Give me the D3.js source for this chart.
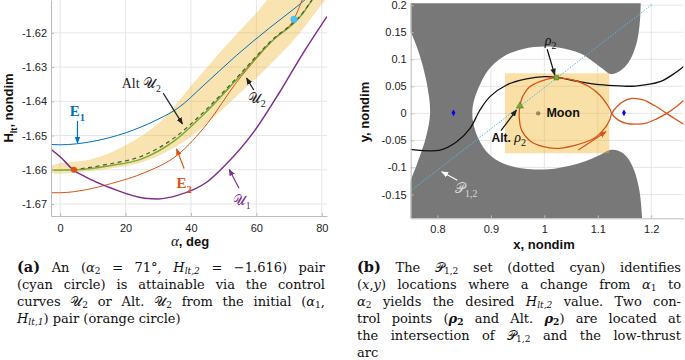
<!DOCTYPE html>
<html>
<head>
<meta charset="utf-8">
<script src="https://cdn.jsdelivr.net/npm/d3@7"></script>
<style>
  body { margin: 0; background: #fff; }
  svg { display: block; }
</style>
</head>
<body>
<svg id="fig" width="685" height="360"></svg>
<script>
// ---------- panel (a): H_lt vs alpha ----------
const alphaTicks = [0, 20, 40, 60, 80];
const hTicks = [-1.67, -1.66, -1.65, -1.64, -1.63, -1.62];

const curveE1 = [[-2.8, -1.6526], [0, -1.6527], [10, -1.6517], [20, -1.6492], [30, -1.6452], [36, -1.6420],
  [43.7, -1.6355], [53.9, -1.6266], [64.1, -1.6185], [71.5, -1.6130], [74.8, -1.6104], [77, -1.6085]];
const curveE2 = [[-2.8, -1.6667], [0, -1.6667], [8, -1.6658], [15.7, -1.6640], [25.9, -1.6608], [36.1, -1.6555],
  [45, -1.6465], [53.9, -1.6345], [60, -1.6275], [66, -1.6212], [71.5, -1.6160], [74, -1.6104], [75, -1.6080]];
const curveU1 = [[-2.8, -1.6540], [0, -1.6562], [4, -1.6600], [7.6, -1.6620], [15.7, -1.6654], [25.9, -1.6683],
  [30, -1.6685], [36.1, -1.6674], [45, -1.6635], [50, -1.6591], [59.6, -1.6484], [67, -1.6375],
  [74.3, -1.6259], [81.6, -1.6152]];
const curveU2 = [[-2.8, -1.6601], [5, -1.6600], [15, -1.6588], [25, -1.6568], [35, -1.6515], [43.7, -1.6440],
  [53.9, -1.6337], [64.1, -1.6230], [74.3, -1.6142], [77, -1.6104], [78, -1.6090]];
const curveAltU2 = [[4, -1.6600], [15, -1.6583], [25, -1.6560], [35, -1.6506], [43.7, -1.6433],
  [53.9, -1.6332], [64.1, -1.6227], [74.3, -1.6140], [77, -1.6104]];
const bandUpper = [[-2.8, -1.6590], [10, -1.6568], [20, -1.6528], [30, -1.6465], [40, -1.6355],
  [50, -1.6245], [60, -1.6142], [66, -1.6085]];
const bandLower = [[-2.8, -1.6608], [5, -1.6607], [15, -1.6597], [25, -1.6578], [35, -1.6535], [43.7, -1.6474],
  [53.9, -1.6386], [64.1, -1.6294], [72, -1.6215], [81, -1.6104], [83, -1.6080]];
const startPair = [4.2, -1.6600];   // orange circle
const targetPair = [71.5, -1.6160]; // cyan circle

// ---------- panel (b): x-y plane ----------
const xTicks = [0.8, 0.9, 1.0, 1.1, 1.2];
const yTicks = [-0.15, -0.1, -0.05, 0, 0.05, 0.1, 0.15, 0.2];

// forbidden-region boundary (zero velocity curve) around the Moon and the neck
const zvcInner = [[1.1805, 0.215], [1.1803, 0.2035], [1.179, 0.1726], [1.174, 0.1356], [1.1635, 0.1048],
  [1.151, 0.0863], [1.1354, 0.0752], [1.1229, 0.0728], [1.1103, 0.0815], [1.0916, 0.0955], [1.0667, 0.1110],
  [1.029, 0.1214], [1.0, 0.1235], [0.9605, 0.1191], [0.9232, 0.1049], [0.8952, 0.0802], [0.8765, 0.0463],
  [0.8672, 0.0185], [0.8653, 0], [0.8672, -0.0185], [0.8765, -0.0463], [0.8952, -0.0741], [0.9232, -0.0926],
  [0.9605, -0.1019], [1.0, -0.1037], [1.029, -0.1005], [1.0667, -0.0918], [1.104, -0.0770], [1.1229, -0.0677],
  [1.1384, -0.0690], [1.1541, -0.0800], [1.1678, -0.1047], [1.1777, -0.1417], [1.1827, -0.1910], [1.183, -0.205]];
// white bulge at the left edge
const zvcLeft = [[0.745, -0.135], [0.75, -0.1235], [0.7645, -0.0864], [0.7788, -0.0432], [0.7863, 0],
  [0.7813, 0.0494], [0.7677, 0.1049], [0.75, 0.151], [0.745, 0.16]];

const arcBlack = [[0.74, -0.0655], [0.75, -0.0667], [0.805, -0.0679], [0.8361, -0.0525], [0.861, -0.0278],
  [0.8796, 0.0062], [0.8983, 0.0309], [0.9294, 0.0525], [0.9667, 0.0636], [1.0, 0.0679], [1.0227, 0.0667],
  [1.0663, 0.0586], [1.1036, 0.0530], [1.1409, 0.0508], [1.1700, 0.0505], [1.2165, 0.0585], [1.2450, 0.0750],
  [1.2600, 0.0863], [1.27, 0.094]];
const arcOrangeA = [[1.0227, 0.066], [1.004, 0.063], [0.9729, 0.0494], [0.9593, 0.0309], [0.9543, 0.0136],
  [0.953, -0.0062], [0.9574, -0.0309], [0.9729, -0.0506], [0.9978, -0.0617], [1.0227, -0.0648],
  [1.0538, -0.0599], [1.0787, -0.0525], [1.0974, -0.0432], [1.1129, -0.0278], [1.1222, -0.0123],
  [1.1260, -0.0005], [1.1378, 0.0145], [1.1533, 0.0250], [1.1650, 0.0278], [1.1850, 0.0250], [1.2050, 0.0150],
  [1.2290, 0.0000], [1.2450, -0.0105], [1.2600, -0.0195], [1.27, -0.025]];
const arcOrangeB = [[1.0227, 0.066], [1.0538, 0.0617], [1.0818, 0.0506], [1.1036, 0.034], [1.116, 0.0185],
  [1.1235, 0.0062], [1.1260, -0.0005], [1.1378, -0.0120], [1.1533, -0.0185], [1.1728, -0.0200],
  [1.1907, -0.0180], [1.2093, -0.0105], [1.2290, 0.0000], [1.2450, 0.0110], [1.2600, 0.0233], [1.27, 0.031]];
const setP12 = [[0.75, -0.143], [1.2027, 0.2022]];
const controlBox = { x0: 0.9263, x1: 1.1216, y0: -0.0738, y1: 0.0740 };
const lagrangePts = [[0.83, 0.001], [1.149, 0.001]];
const moonPos = [0.9885, 0];
const rho2 = [1.0227, 0.066];
const altRho2 = [0.9543, 0.0136];
const thrustArrow = [[1.0636, -0.0677], [1.1154, -0.0339]];

// ---------- styling ----------
const SANS = "'Liberation Sans', Arial, Helvetica, sans-serif";
const SERIF = "'Liberation Serif', 'DejaVu Serif', 'Times New Roman', serif";
const CAPTION_SERIF = "'DejaVu Serif', 'Liberation Serif', serif";
const C = {
  blue: "#0072BD", orange: "#D95319", purple: "#7E2F8E", green: "#77AC30",
  cyan: "#4DBEEE", band: "#EDB120", grey: "#787878", grid: "#e6e6e6", axis: "#bcbcbc"
};

const svg = d3.select("#fig");
const defs = svg.append("defs");

function marker(id, color) {
  defs.append("marker")
    .attr("id", id)
    .attr("viewBox", "0 0 10 10")
    .attr("refX", 9).attr("refY", 5)
    .attr("markerUnits", "userSpaceOnUse")
    .attr("markerWidth", 7).attr("markerHeight", 7)
    .attr("orient", "auto")
    .append("path")
    .attr("d", "M0,1 L10,5 L0,9 z")
    .attr("fill", color);
}
marker("arBlue", C.blue);
marker("arOrange", C.orange);
marker("arPurple", C.purple);
marker("arBlack", "#222");
marker("arWhite", "#ffffff");

// rich text: parts = [[style, text], ...]; style r/i/b/_ (subscript) /_i (italic subscript)
function rich(sel, x, y, parts, size, family, fill, anchor, subRatio) {
  const t = sel.append("text")
    .attr("x", x).attr("y", y)
    .attr("font-family", family)
    .attr("font-size", size)
    .attr("fill", fill || "#111")
    .attr("text-anchor", anchor || "start");
  const drop = Math.round(size * (subRatio || 0.3));
  let shift = 0;
  parts.forEach(([st, txt]) => {
    const sub = st.startsWith("_");
    const want = sub ? drop : 0;
    const sp = t.append("tspan").text(txt);
    if (want !== shift) { sp.attr("dy", want - shift); shift = want; }
    if (sub) sp.attr("font-size", size * 0.7);
    if (st.includes("i")) sp.attr("font-style", "italic");
    if (st.includes("b")) sp.attr("font-weight", "bold");
  });
  return t;
}

function arrow(g, p0, p1, color, id, w) {
  g.append("line")
    .attr("x1", p0[0]).attr("y1", p0[1]).attr("x2", p1[0]).attr("y2", p1[1])
    .attr("stroke", color).attr("stroke-width", w || 1.2)
    .attr("marker-end", `url(#${id})`);
}

// ================= panel (a) =================
const xA = d3.scaleLinear().domain([-2.8, 81.6]).range([51, 327]);
const yA = d3.scaleLinear().domain([-1.6735, -1.6104]).range([216, 0]);

defs.append("clipPath").attr("id", "clipA")
  .append("rect").attr("x", 51).attr("y", 0).attr("width", 276).attr("height", 216);

const gA = svg.append("g");

// grid
gA.selectAll(".gx").data(alphaTicks).enter().append("line")
  .attr("x1", d => xA(d)).attr("x2", d => xA(d)).attr("y1", 0).attr("y2", 216)
  .attr("stroke", C.grid).attr("stroke-width", 1);
gA.selectAll(".gy").data(hTicks).enter().append("line")
  .attr("x1", 51).attr("x2", 327).attr("y1", d => yA(d)).attr("y2", d => yA(d))
  .attr("stroke", C.grid).attr("stroke-width", 1);

const plotA = gA.append("g").attr("clip-path", "url(#clipA)");
const lineA = d3.line().x(d => xA(d[0])).y(d => yA(d[1])).curve(d3.curveMonotoneX);
const bandPoly = bandUpper.concat(bandLower.slice().reverse());

plotA.append("path")
  .attr("d", d3.line().x(d => xA(d[0])).y(d => yA(d[1])).curve(d3.curveCatmullRomClosed)(bandPoly))
  .attr("fill", C.band).attr("fill-opacity", 0.35);

plotA.append("path").attr("d", lineA(curveE1)).attr("fill", "none").attr("stroke", C.blue).attr("stroke-width", 1);
plotA.append("path").attr("d", lineA(curveE2)).attr("fill", "none").attr("stroke", C.orange).attr("stroke-width", 1);
plotA.append("path").attr("d", lineA(curveU1)).attr("fill", "none").attr("stroke", C.purple).attr("stroke-width", 1.5);
plotA.append("path").attr("d", lineA(curveU2)).attr("fill", "none").attr("stroke", C.green).attr("stroke-width", 1.5);
plotA.append("path").attr("d", lineA(curveAltU2)).attr("fill", "none").attr("stroke", "#4a5a3a")
  .attr("stroke-width", 1.2).attr("stroke-dasharray", "4,3.5");

plotA.append("circle").attr("cx", xA(startPair[0])).attr("cy", yA(startPair[1])).attr("r", 3)
  .attr("fill", C.orange);
plotA.append("circle").attr("cx", xA(targetPair[0])).attr("cy", yA(targetPair[1])).attr("r", 3.5)
  .attr("fill", C.cyan);

// axes
const axA_y = gA.append("g").attr("transform", "translate(51,0)")
  .call(d3.axisLeft(yA).tickValues(hTicks).tickSizeInner(-3).tickSizeOuter(0).tickPadding(4)
    .tickFormat(d => d.toFixed(2)));
const axA_x = gA.append("g").attr("transform", "translate(0,216)")
  .call(d3.axisBottom(xA).tickValues(alphaTicks).tickSizeInner(-3).tickSizeOuter(0).tickPadding(8)
    .tickFormat(d => String(d)));
[axA_y, axA_x].forEach(a => {
  a.select(".domain").attr("stroke", C.axis);
  a.selectAll(".tick line").attr("stroke", C.axis);
  a.selectAll("text").attr("font-family", SANS).attr("font-size", 11).attr("fill", "#222");
});

// axis labels
rich(gA, 0, 0, [["b", "H"], ["_b", "lt"], ["b", ", nondim"]], 13, SANS, "#111", "middle")
  .attr("transform", "translate(13,108) rotate(-90)");
rich(gA, 190, 246, [["i", "α"], ["b", ", deg"]], 13, SANS, "#111", "middle")
  .select("tspan").attr("font-family", SERIF).attr("font-size", 15);

// annotations
rich(gA, xA(5.3), yA(-1.6444), [["b", "E"], ["_b", "1"]], 15, SERIF, C.blue, "middle");
arrow(gA, [xA(5.3), yA(-1.6457)], [xA(5.3), yA(-1.6522)], C.blue, "arBlue");

rich(gA, xA(18.8), yA(-1.6361), [["r", "Alt 𝒰"], ["_", "2"]], 14, SERIF, "#222");
arrow(gA, [xA(31.5), yA(-1.6376)], [xA(37.4), yA(-1.6466)], "#222", "arBlack");

rich(gA, xA(57.4), yA(-1.6405), [["r", "𝒰"], ["_", "2"]], 14, SERIF, "#222");
arrow(gA, [xA(59.2), yA(-1.6367)], [xA(57), yA(-1.6332)], "#222", "arBlack");

rich(gA, xA(35.6), yA(-1.6652), [["b", "E"], ["_b", "2"]], 15, SERIF, C.orange);
arrow(gA, [xA(37.9), yA(-1.6596)], [xA(35.6), yA(-1.6539)], C.orange, "arOrange");

rich(gA, xA(52.8), yA(-1.6703), [["r", "𝒰"], ["_", "1"]], 14, SERIF, C.purple);
arrow(gA, [xA(54.7), yA(-1.6654)], [xA(51.7), yA(-1.6599)], C.purple, "arPurple");

// ================= panel (b) =================
const xB = d3.scaleLinear().domain([0.75, 1.26]).range([410.7, 683.3]);
const yB = d3.scaleLinear().domain([-0.194, 0.2035]).range([218.3, 3.3]);

defs.append("clipPath").attr("id", "clipB")
  .append("rect").attr("x", 410.7).attr("y", 3.3).attr("width", 272.6).attr("height", 215);

const gB = svg.append("g");
gB.selectAll(".gx").data(xTicks).enter().append("line")
  .attr("x1", d => xB(d)).attr("x2", d => xB(d)).attr("y1", 3.3).attr("y2", 218.3)
  .attr("stroke", C.grid);
gB.selectAll(".gy").data(yTicks).enter().append("line")
  .attr("x1", 410.7).attr("x2", 683.3).attr("y1", d => yB(d)).attr("y2", d => yB(d))
  .attr("stroke", C.grid);

const plotB = gB.append("g").attr("clip-path", "url(#clipB)");
const smooth = d3.line().x(d => xB(d[0])).y(d => yB(d[1])).curve(d3.curveCatmullRom.alpha(0.5));
const straight = d3.line().x(d => xB(d[0])).y(d => yB(d[1]));

// forbidden region: outer corners + curved boundaries
const regionPath = "M" + xB(0.74) + "," + yB(0.215) +
  smooth(zvcInner).replace(/^M/, "L") +
  "L" + xB(0.74) + "," + yB(-0.205) +
  smooth(zvcLeft).replace(/^M/, "L") + "Z";
plotB.append("path").attr("d", regionPath).attr("fill", C.grey);

plotB.append("rect")
  .attr("x", xB(controlBox.x0)).attr("y", yB(controlBox.y1))
  .attr("width", xB(controlBox.x1) - xB(controlBox.x0))
  .attr("height", yB(controlBox.y0) - yB(controlBox.y1))
  .attr("fill", C.band).attr("fill-opacity", 0.4);

plotB.append("path").attr("d", straight(setP12)).attr("fill", "none")
  .attr("stroke", C.cyan).attr("stroke-width", 1).attr("stroke-dasharray", "1.5,1.5");
plotB.append("path").attr("d", smooth(arcBlack)).attr("fill", "none").attr("stroke", "#111").attr("stroke-width", 1.3);
plotB.append("path").attr("d", smooth(arcOrangeA)).attr("fill", "none").attr("stroke", C.orange).attr("stroke-width", 1.3);
plotB.append("path").attr("d", smooth(arcOrangeB)).attr("fill", "none").attr("stroke", C.orange).attr("stroke-width", 1.3);

plotB.selectAll(".lp").data(lagrangePts).enter().append("path")
  .attr("transform", d => `translate(${xB(d[0])},${yB(d[1])})`)
  .attr("d", d3.symbol(d3.symbolDiamond, 13)())
  .attr("fill", "#0000ff");
plotB.append("circle").attr("cx", xB(moonPos[0])).attr("cy", yB(moonPos[1])).attr("r", 2.2)
  .attr("fill", "#9a8462");
plotB.append("path")
  .attr("transform", `translate(${xB(altRho2[0])},${yB(altRho2[1])})`)
  .attr("d", d3.symbol(d3.symbolTriangle, 22)())
  .attr("fill", C.green).attr("stroke", "#4f7a20").attr("stroke-width", 0.6);
plotB.append("path")
  .attr("transform", `translate(${xB(rho2[0])},${yB(rho2[1])})`)
  .attr("d", d3.symbol(d3.symbolSquare, 20)())
  .attr("fill", C.green).attr("stroke", "#4f7a20").attr("stroke-width", 0.6);

arrow(plotB, [xB(thrustArrow[0][0]), yB(thrustArrow[0][1])], [xB(thrustArrow[1][0]), yB(thrustArrow[1][1])],
  C.orange, "arOrange", 1.1);

// axes
const axB_y = gB.append("g").attr("transform", "translate(410.7,0)")
  .call(d3.axisLeft(yB).tickValues(yTicks).tickSizeInner(-3).tickSizeOuter(0).tickPadding(4)
    .tickFormat(d => String(d)));
const axB_x = gB.append("g").attr("transform", "translate(0,218.3)")
  .call(d3.axisBottom(xB).tickValues(xTicks).tickSizeInner(-3).tickSizeOuter(0).tickPadding(7)
    .tickFormat(d => String(d)));
[axB_y, axB_x].forEach(a => {
  a.select(".domain").attr("stroke", C.axis);
  a.selectAll(".tick line").attr("stroke", C.axis);
  a.selectAll("text").attr("font-family", SANS).attr("font-size", 11).attr("fill", "#222");
});
gB.append("text").attr("transform", "translate(369,112) rotate(-90)")
  .attr("text-anchor", "middle").attr("font-family", SANS).attr("font-size", 13)
  .attr("font-weight", "bold").attr("fill", "#111").text("y, nondim");
gB.append("text").attr("x", 544).attr("y", 249)
  .attr("text-anchor", "middle").attr("font-family", SANS).attr("font-size", 13)
  .attr("font-weight", "bold").attr("fill", "#111").text("x, nondim");

// annotations
rich(gB, xB(1.0009), yB(0.1265), [["i", "ρ"], ["_", "2"]], 14, SERIF, "#111");
arrow(gB, [xB(1.0053), yB(0.1185)], [xB(1.0196), yB(0.071)], "#111", "arBlack");
const altLbl = rich(gB, xB(0.9014), yB(-0.0525), [["b", "Alt. "], ["i", "ρ"], ["_", "2"]], 12, SANS, "#111");
altLbl.selectAll("tspan").filter((d, i) => i > 0).attr("font-family", SERIF).attr("font-size", 14);
altLbl.selectAll("tspan").filter((d, i) => i === 2).attr("font-size", 10);
arrow(gB, [xB(0.9188), yB(-0.0321)], [xB(0.948), yB(0.0062)], "#111", "arBlack");
gB.append("text").attr("x", xB(1.004)).attr("y", yB(-0.0074))
  .attr("font-family", SANS).attr("font-size", 12.5).attr("font-weight", "bold").attr("fill", "#111")
  .text("Moon");
rich(gB, xB(0.833), yB(-0.147), [["r", "𝒫"], ["_", "1,2"]], 14, SERIF, "#d8d8d8");
arrow(gB, [xB(0.8373), yB(-0.1235)], [xB(0.8081), yB(-0.108)], "#ffffff", "arWhite", 1.1);

// ================= captions =================
const captionA = [
  [["b", "(a)"], ["r", " An ("], ["i", "α"], ["_", "2"], ["r", " = 71°, "], ["i", "H"], ["_i", "lt,2"], ["r", " = −1.616) pair"]],
  [["r", "(cyan circle) is attainable via the control"]],
  [["r", "curves 𝒰"], ["_", "2"], ["r", " or Alt. 𝒰"], ["_", "2"], ["r", " from the initial ("], ["i", "α"], ["_", "1"], ["r", ","]],
  [["i", "H"], ["_i", "lt,1"], ["r", ") pair (orange circle)"]]
];
const captionB = [
  [["b", "(b)"], ["r", " The 𝒫"], ["_", "1,2"], ["r", " set (dotted cyan) identifies"]],
  [["r", "("], ["i", "x"], ["r", ","], ["i", "y"], ["r", ") locations where a change from "], ["i", "α"], ["_", "1"], ["r", " to"]],
  [["i", "α"], ["_", "2"], ["r", " yields the desired "], ["i", "H"], ["_i", "lt,2"], ["r", " value. Two con-"]],
  [["r", "trol points ("], ["bi", "ρ"], ["_b", "2"], ["r", " and Alt. "], ["bi", "ρ"], ["_b", "2"], ["r", ") are located at"]],
  [["r", "the intersection of 𝒫"], ["_", "1,2"], ["r", " and the low-thrust"]],
  [["r", "arc"]]
];

// justified caption lines: spread the slack over the word gaps
function caption(lines, x0, width, y0) {
  lines.forEach((parts, i) => {
    const t = rich(svg, x0, y0 + i * 16.9, parts, 13, CAPTION_SERIF, "#111", "start", 0.17);
    t.selectAll("tspan").filter(function () {
      return d3.select(this).attr("font-weight") === "bold" && this.textContent.startsWith("(");
    }).attr("font-size", 14.5);
    if (i < lines.length - 1) {
      const natural = t.node().getComputedTextLength();
      const gaps = (t.text().match(/ /g) || []).length;
      if (gaps > 0) t.attr("word-spacing", Math.max(-2, (width - natural) / gaps));
    }
  });
}
caption(captionA, 17, 308, 272);
caption(captionB, 357, 324, 272);
</script>
</body>
</html>
